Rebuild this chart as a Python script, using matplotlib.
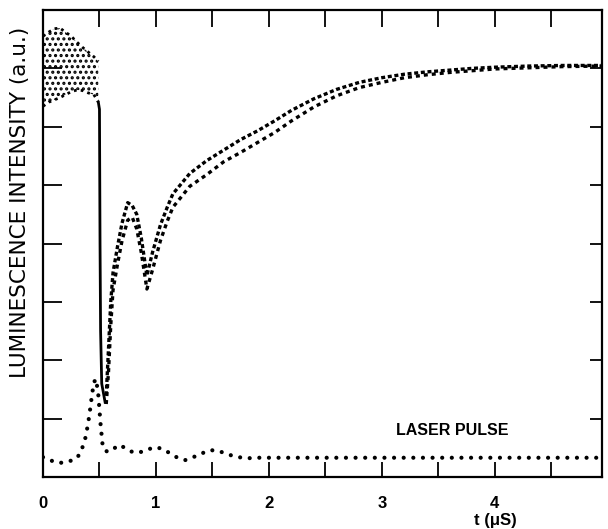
import numpy as np
import matplotlib
matplotlib.use('Agg')
import matplotlib.pyplot as plt

# luminescence before the pulse (noisy band, upper / lower edge)
t_early = [0.0, 0.05, 0.10, 0.15, 0.20, 0.25, 0.30, 0.35, 0.40, 0.45, 0.49]
early_hi = [7.55, 7.62, 7.68, 7.69, 7.62, 7.55, 7.45, 7.36, 7.28, 7.20, 7.12]
early_lo = [6.35, 6.42, 6.46, 6.50, 6.55, 6.60, 6.63, 6.62, 6.58, 6.55, 6.42]

# quench at the laser pulse
t_drop = [0.49, 0.50, 0.505, 0.51, 0.52, 0.55]
lum_drop = [6.42, 6.30, 4.00, 2.50, 1.60, 1.28]

# recovery, two interleaved traces
t_rec = [0.56, 0.58, 0.60, 0.62, 0.66, 0.70, 0.75, 0.79, 0.83, 0.87, 0.92, 0.97,
         1.04, 1.10, 1.15, 1.30, 1.45, 1.60, 1.75, 1.90, 2.05, 2.20, 2.40, 2.60,
         2.80, 3.00, 3.20, 3.40, 3.60, 3.80, 4.00, 4.30, 4.60, 4.95]
lum_a = [1.40, 2.20, 3.00, 3.50, 3.95, 4.35, 4.70, 4.65, 4.50, 4.10, 3.45, 3.85,
         4.32, 4.62, 4.85, 5.20, 5.42, 5.60, 5.78, 5.93, 6.10, 6.28, 6.48, 6.64,
         6.76, 6.84, 6.90, 6.94, 6.97, 7.00, 7.02, 7.04, 7.05, 7.05]
lum_b = [1.25, 1.80, 2.60, 3.20, 3.65, 4.05, 4.40, 4.45, 4.25, 3.85, 3.22, 3.55,
         4.05, 4.38, 4.62, 4.98, 5.18, 5.40, 5.56, 5.73, 5.90, 6.10, 6.34, 6.53,
         6.67, 6.76, 6.84, 6.89, 6.93, 6.96, 6.99, 7.01, 7.03, 7.04]

# laser pulse trace
t_laser = [0.0, 0.05, 0.10, 0.15, 0.20, 0.25, 0.30, 0.34, 0.38, 0.41, 0.43, 0.45,
           0.47, 0.49, 0.51, 0.53, 0.57, 0.62, 0.68, 0.74, 0.80, 0.87, 0.94, 1.00,
           1.06, 1.13, 1.20, 1.26, 1.32, 1.40, 1.48, 1.55, 1.62, 1.70, 1.80, 1.90,
           2.0, 2.5, 3.0, 3.5, 4.0, 4.5, 4.95]
laser = [0.34, 0.30, 0.26, 0.24, 0.26, 0.28, 0.32, 0.45, 0.70, 1.05, 1.35, 1.62,
         1.68, 1.40, 0.90, 0.50, 0.43, 0.48, 0.55, 0.48, 0.42, 0.43, 0.48, 0.51,
         0.48, 0.40, 0.32, 0.29, 0.33, 0.40, 0.46, 0.45, 0.40, 0.35, 0.32, 0.33,
         0.33, 0.33, 0.33, 0.33, 0.33, 0.33, 0.33]

xtick_pos = [0, 0.5, 1, 1.5, 2, 2.5, 3, 3.5, 4, 4.5]
xtick_lab = ['0', '', '1', '', '2', '', '3', '', '4', '']
ytick_pos = [1, 2, 3, 4, 5, 6, 7]

plt.rcParams['hatch.linewidth'] = 1.5
fig = plt.figure(figsize=(6.08, 5.29), dpi=100)
ax = fig.add_axes([43/608, 1 - 477/529, (602 - 43)/608, (477 - 10)/529])

ax.fill_between(t_early, early_lo, early_hi, facecolor='none', edgecolor='black',
                hatch='...', linewidth=0)
ax.plot(t_early, early_hi, color='black', lw=2, linestyle=(0, (1, 1.5)))
ax.plot(t_early, early_lo, color='black', lw=2, linestyle=(0, (1, 1.5)))
ax.plot(t_drop, lum_drop, color='black', lw=2)
ax.plot(t_rec, lum_a, color='black', lw=2.4, linestyle=(0, (1.2, 0.8)))
ax.plot(t_rec, lum_b, color='black', lw=2.4, linestyle=(0, (1.2, 1.2)))
ax.plot(t_laser, laser, color='black', lw=3, linestyle=(0, (0.01, 2.3)),
        dash_capstyle='round')

ax.text(3.62, 0.80, 'LASER PULSE', ha='center', va='center', fontsize=11.5,
        fontweight='bold', family='Liberation Sans')

ax.set_xlim(0, 4.95)
ax.set_ylim(0, 8)
ax.set_xticks(xtick_pos)
ax.set_xticklabels(xtick_lab, fontsize=12, fontweight='bold', family='Liberation Sans')
ax.set_yticks(ytick_pos)
ax.set_yticklabels([])
ax.tick_params(axis='x', direction='in', length=11, width=1.3, top=True, pad=14)
ax.tick_params(axis='y', direction='in', length=13, width=1.3, right=True)
for t in ax.xaxis.get_major_ticks():
    t.tick2line.set_markersize(12)
for t in ax.yaxis.get_major_ticks():
    t.tick1line.set_markersize(14)
    t.tick2line.set_markersize(9)
for s in ax.spines.values():
    s.set_linewidth(1.6)

fig.text(20/608, 1 - 202/529, 'LUMINESCENCE INTENSITY (a.u.)', rotation=90,
         ha='center', va='center', fontsize=15.5, family='DejaVu Sans')
fig.text(495/608, 1 - 520/529, 't (μS)', ha='center', va='center', fontsize=12,
         fontweight='bold', family='Liberation Sans')

fig.savefig('out.png', dpi=100)
